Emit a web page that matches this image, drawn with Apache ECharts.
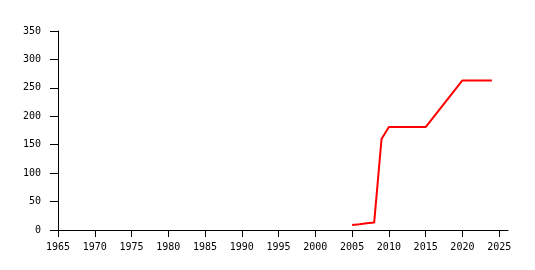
<!DOCTYPE html>
<html><head><meta charset="utf-8">
<script src="https://cdn.jsdelivr.net/npm/echarts@6/dist/echarts.min.js"></script>
<style>html,body{margin:0;padding:0;background:#fff}#c{width:535px;height:270px}</style>
</head><body><div id="c"></div>
<script>
const years = [2005, 2006, 2007, 2008, 2009, 2010, 2015, 2020, 2024];
const values = [9, 10, 12, 13, 160, 181, 181, 263, 263];
const xTicks = [1965, 1970, 1975, 1980, 1985, 1990, 1995, 2000, 2005, 2010, 2015, 2020, 2025];
const yTicks = [0, 50, 100, 150, 200, 250, 300, 350];

const font = {fontFamily: 'DejaVu Sans Mono', fontSize: 10, color: '#000', formatter: v => String(v)};
const chart = echarts.init(document.getElementById('c'), null, {renderer: 'canvas'});
chart.setOption({
  animation: false,
  backgroundColor: '#fff',
  grid: {left: 58, right: 27, top: 31, bottom: 40, containLabel: false},
  xAxis: {
    type: 'value', min: 1965, max: 2026.2,
    axisLine: {lineStyle: {color: '#000', width: 1}},
    axisTick: {show: true, length: 7, lineStyle: {color: '#000'}, customValues: xTicks},
    axisLabel: Object.assign({margin: 12, customValues: xTicks}, font),
    splitLine: {show: false}
  },
  yAxis: {
    type: 'value', min: 0, max: 350, interval: 50,
    axisLine: {show: true, lineStyle: {color: '#000', width: 1}},
    axisTick: {show: true, length: 8, lineStyle: {color: '#000'}, customValues: yTicks},
    axisLabel: Object.assign({margin: 17, customValues: yTicks}, font),
    splitLine: {show: false}
  },
  series: [{
    type: 'line',
    data: years.map((y, i) => [y, values[i]]),
    showSymbol: false,
    lineStyle: {color: '#ff0000', width: 2},
    itemStyle: {color: '#ff0000'}
  }]
});
</script></body></html>
